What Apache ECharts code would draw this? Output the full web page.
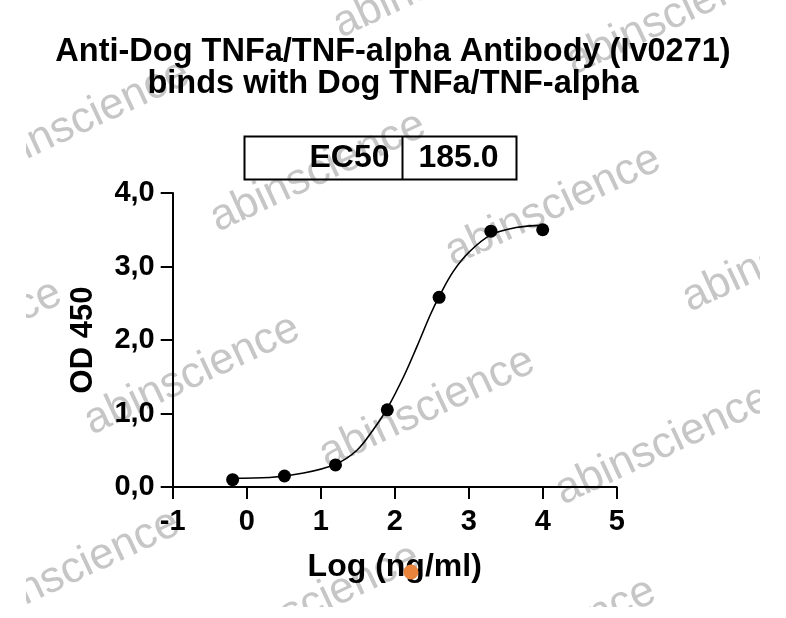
<!DOCTYPE html>
<html>
<head>
<meta charset="utf-8">
<title>Anti-Dog TNFa binding</title>
<script src="https://cdn.jsdelivr.net/npm/echarts@6.0.0/dist/echarts.min.js"></script>
<style>
  html, body { margin: 0; padding: 0; background: #fff; }
  #chart { width: 786px; height: 618px; }
</style>
</head>
<body>
<div id="chart"></div>
<script>
// measured points: log10 of concentration (ng/ml) and OD 450
var logConc = [-0.19, 0.51, 1.2, 1.9, 2.6, 3.3, 4.0];
var od450 = [0.10, 0.15, 0.30, 1.05, 2.58, 3.48, 3.50];

// fitted curve
var fitX = [-0.2, 0.31, 0.77, 1.2, 1.49, 1.71, 1.9, 2.12, 2.3, 2.48, 2.6, 2.79, 3.01, 3.3, 3.64, 4.0];
var fitY = [0.12, 0.13, 0.19, 0.31, 0.50, 0.78, 1.07, 1.50, 1.91, 2.34, 2.59, 2.93, 3.20, 3.43, 3.53, 3.56];

var xTicks = [-1, 0, 1, 2, 3, 4, 5];
var yTicks = [0, 1, 2, 3, 4];

var titleLines = ['Anti-Dog TNFa/TNF-alpha Antibody (Iv0271)', 'binds with Dog TNFa/TNF-alpha'];
var ec50Name = 'EC50';
var ec50Value = '185.0';
var watermarkText = 'abinscience';

var FONT = 'Liberation Sans, Arial, Helvetica, sans-serif';

function pairs(xs, ys) {
    var out = [];
    for (var i = 0; i < xs.length; i++) {
        out.push([xs[i], ys[i]]);
    }
    return out;
}

// watermark centres (page pixels), most are cut by the page edge
var markSpots = [
    [441, -22], [674, 15],
    [82, 120], [318, 172], [553, 206], [790, 252],
    [-46, 340], [192, 375], [427, 408], [663, 445],
    [72, 570], [312, 604], [548, 638]
];
var marks = markSpots.map(function (p) {
    return {
        type: 'text',
        x: p[0],
        y: p[1],
        rotation: 25 * Math.PI / 180,
        z: 0,
        silent: true,
        style: {
            text: watermarkText,
            x: 0,
            y: 0,
            align: 'center',
            verticalAlign: 'middle',
            font: 'normal 44px ' + FONT,
            fill: '#c6c6c6'
        }
    };
});
// the watermark layer stops short of the left, right and bottom edges
marks.push({ type: 'rect', z: 1, silent: true, shape: { x: 0, y: 0, width: 26, height: 618 }, style: { fill: '#fff' } });
marks.push({ type: 'rect', z: 1, silent: true, shape: { x: 760, y: 0, width: 26, height: 618 }, style: { fill: '#fff' } });
marks.push({ type: 'rect', z: 1, silent: true, shape: { x: 0, y: 607, width: 786, height: 11 }, style: { fill: '#fff' } });

// EC50 table box
var box = {
    type: 'group',
    left: 242,
    top: 134,
    z: 10,
    children: [
        { type: 'rect', shape: { x: 0, y: 0, width: 272, height: 43 },
          style: { fill: 'none', stroke: '#000', lineWidth: 2 } },
        { type: 'line', shape: { x1: 158, y1: 0, x2: 158, y2: 43 },
          style: { stroke: '#000', lineWidth: 2 } },
        { type: 'text', style: { text: ec50Name, x: 145, y: 22, align: 'right', verticalAlign: 'middle',
          font: 'bold 32px ' + FONT, fill: '#000' } },
        { type: 'text', style: { text: ec50Value, x: 174, y: 22, align: 'left', verticalAlign: 'middle',
          font: 'bold 32px ' + FONT, fill: '#000' } }
    ]
};

// orange dot over the x axis name
var dot = {
    type: 'circle',
    z: 20,
    shape: { cx: 411, cy: 572, r: 7.5 },
    style: { fill: '#e8843c' }
};

var option = {
    backgroundColor: '#fff',
    animation: false,
    title: {
        text: titleLines.join('\n'),
        left: 'center',
        top: 31,
        textStyle: {
            fontFamily: FONT,
            fontWeight: 'bold',
            fontSize: 32.5,
            lineHeight: 32,
            color: '#000'
        }
    },
    grid: {
        left: 172.7,
        right: 169.3,
        top: 193,
        bottom: 131,
        containLabel: false
    },
    xAxis: {
        type: 'value',
        min: xTicks[0],
        max: xTicks[xTicks.length - 1],
        interval: 1,
        name: 'Log (ng/ml)',
        nameLocation: 'middle',
        nameGap: 64,
        nameTextStyle: { fontFamily: FONT, fontWeight: 'bold', fontSize: 32, color: '#000' },
        axisLine: { onZero: false, lineStyle: { color: '#000', width: 2 } },
        axisTick: { length: 12, lineStyle: { color: '#000', width: 2 } },
        axisLabel: { margin: 20, fontFamily: FONT, fontWeight: 'bold', fontSize: 29, color: '#000' },
        splitLine: { show: false }
    },
    yAxis: {
        type: 'value',
        min: yTicks[0],
        max: yTicks[yTicks.length - 1],
        interval: 1,
        name: 'OD 450',
        nameLocation: 'middle',
        nameRotate: 90,
        nameGap: 74,
        nameTextStyle: { fontFamily: FONT, fontWeight: 'bold', fontSize: 31, color: '#000' },
        axisLine: { onZero: false, lineStyle: { color: '#000', width: 2 } },
        axisTick: { length: 12, lineStyle: { color: '#000', width: 2 } },
        axisLabel: {
            margin: 18,
            fontFamily: FONT, fontWeight: 'bold', fontSize: 29, color: '#000',
            formatter: function (v) { return v.toFixed(1).replace('.', ','); }
        },
        splitLine: { show: false }
    },
    graphic: marks.concat([box, dot]),
    series: [
        {
            name: 'fit',
            type: 'line',
            data: pairs(fitX, fitY),
            smooth: 0.35,
            showSymbol: false,
            lineStyle: { color: '#000', width: 1.6 },
            z: 3
        },
        {
            name: 'OD',
            type: 'scatter',
            data: pairs(logConc, od450),
            symbol: 'circle',
            symbolSize: 13,
            itemStyle: { color: '#000', opacity: 1 },
            z: 4
        }
    ]
};

var myChart = echarts.init(document.getElementById('chart'));
myChart.setOption(option);
</script>
</body>
</html>
